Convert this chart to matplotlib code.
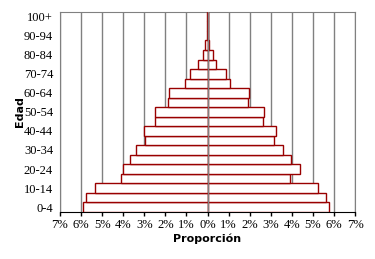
import matplotlib
matplotlib.use("Agg")
import matplotlib.pyplot as plt
import numpy as np

# Age groups, bottom to top
grupos = ["0-4", "5-9", "10-14", "15-19", "20-24", "25-29", "30-34", "35-39",
          "40-44", "45-49", "50-54", "55-59", "60-64", "65-69", "70-74",
          "75-79", "80-84", "85-89", "90-94", "95-99", "100+"]

# Share of population (%) on each side of the pyramid
izquierda = [5.90, 5.76, 5.33, 4.10, 4.01, 3.67, 3.38, 2.98, 3.00, 2.48, 2.48,
             1.86, 1.81, 1.05, 0.81, 0.43, 0.22, 0.10, 0.03, 0.02, 0.01]
derecha = [5.76, 5.62, 5.24, 3.89, 4.40, 3.97, 3.57, 3.14, 3.24, 2.62, 2.67,
           1.90, 1.97, 1.08, 0.86, 0.38, 0.24, 0.05, 0.03, 0.02, 0.01]

x_ticks = list(range(-7, 8))
x_labels = ["%d%%" % abs(t) for t in x_ticks]

edge = "#990000"
grid = "#808080"

fig = plt.figure(figsize=(3.75, 2.59), dpi=100)
ax = fig.add_axes([0.16, 0.182, 0.787, 0.772])

y = np.arange(len(grupos))
ax.barh(y, [-v for v in izquierda], height=1.0, color="white",
        edgecolor=edge, linewidth=1.0, zorder=3)
ax.barh(y, derecha, height=1.0, color="white",
        edgecolor=edge, linewidth=1.0, zorder=3)

for t in x_ticks:
    ax.axvline(t, color=grid, linewidth=1.0, zorder=1)
ax.axvline(0, color=grid, linewidth=1.0, zorder=4)

ax.set_xlim(-7, 7)
ax.set_ylim(-0.5, len(grupos) - 0.5)
ax.set_xticks(x_ticks)
ax.set_xticklabels(x_labels, fontsize=9, family="Liberation Serif")
ax.set_yticks(y[::2])
ax.set_yticklabels(grupos[::2], fontsize=9, family="Liberation Serif")
ax.tick_params(axis="x", direction="out", length=3, width=1, pad=2)
ax.tick_params(axis="y", length=0, pad=5)

for s in ["left", "top", "right"]:
    ax.spines[s].set_color(grid)
ax.spines["bottom"].set_color("black")

ax.set_xlabel("Proporción", fontsize=8, fontweight="bold", va="center")
ax.set_ylabel("Edad", fontsize=8, fontweight="bold", va="center")
ax.xaxis.set_label_coords(0.5, -0.135)
ax.yaxis.set_label_coords(-0.136, 0.5)

fig.savefig("out.png", dpi=100)
